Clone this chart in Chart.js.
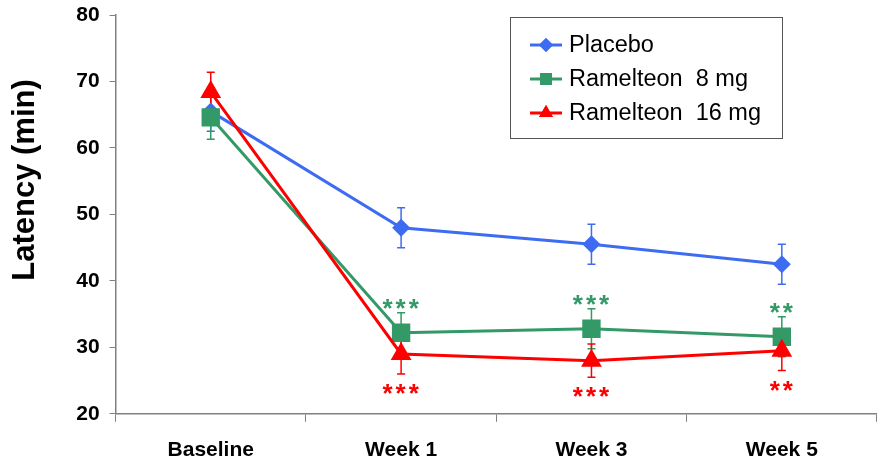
<!DOCTYPE html>
<html>
<head>
<meta charset="utf-8">
<script src="https://cdn.jsdelivr.net/npm/chart.js@4.4.0/dist/chart.umd.min.js"></script>
<style>
html, body { margin: 0; padding: 0; background: #fff; }
#wrap { width: 877px; height: 465px; position: relative; }
</style>
</head>
<body>
<div id="wrap"><canvas id="chart1"></canvas></div>
<script>
// données
const weeks = ["Baseline", "Week 1", "Week 3", "Week 5"];
const placebo = [65.5, 48, 45.5, 42.5];
const placeboErr = [3, 3, 3, 3];
const ram8 = [64.6, 32.2, 32.8, 31.6];
const ram8Err = [3.3, 3, 3, 3];
const ram16 = [68.4, 29, 28, 29.5];
const ram16Err = [3, 3, 2.5, 3];
const ram8Stars = ["", "***", "***", "**"];
const ram16Stars = ["", "***", "***", "**"];

const FONT = "'Liberation Sans', Arial, sans-serif";
const BLUE = "#3D6CF2";
const GREEN = "#339966";
const RED = "#FF0000";
const Y_TITLE = "Latency (min)";

// barres d'erreur, étoiles, titre de l'axe y et légende encadrée
const extras = {
    id: "extras",
    beforeDatasetsDraw(chart) {
        const { ctx, scales: { x, y } } = chart;
        chart.data.datasets.forEach(ds => {
            ctx.save();
            ctx.strokeStyle = ds.borderColor;
            ctx.lineWidth = 1.5;
            ds.errors.forEach((e, i) => {
                const px = x.getPixelForValue(i);
                const top = y.getPixelForValue(ds.data[i] + e);
                const bot = y.getPixelForValue(ds.data[i] - e);
                ctx.beginPath();
                ctx.moveTo(px, top); ctx.lineTo(px, bot);
                ctx.moveTo(px - 4, top); ctx.lineTo(px + 4, top);
                ctx.moveTo(px - 4, bot); ctx.lineTo(px + 4, bot);
                ctx.stroke();
            });
            ctx.restore();
        });
    },
    afterDatasetsDraw(chart) {
        const { ctx, scales: { x, y } } = chart;
        ctx.save();
        ctx.font = "bold 26px " + FONT;
        ctx.letterSpacing = "3px";
        ctx.textAlign = "center";
        ctx.textBaseline = "alphabetic";
        ctx.fillStyle = GREEN;
        ram8Stars.forEach((s, i) => {
            if (!s) return;
            ctx.fillText(s, x.getPixelForValue(i) + 1, y.getPixelForValue(ram8[i] + ram8Err[i]) + 4);
        });
        ctx.fillStyle = RED;
        ram16Stars.forEach((s, i) => {
            if (!s) return;
            ctx.fillText(s, x.getPixelForValue(i) + 1, y.getPixelForValue(ram16[i] - ram16Err[i]) + 28);
        });
        ctx.letterSpacing = "0px";

        // titre de l'axe y, un peu au-dessus du milieu comme dans l'original
        ctx.save();
        ctx.translate(25, 180);
        ctx.rotate(-Math.PI / 2);
        ctx.font = "bold 31px " + FONT;
        ctx.fillStyle = "#000";
        ctx.textAlign = "center";
        ctx.textBaseline = "middle";
        ctx.fillText(Y_TITLE, 0, 0);
        ctx.restore();

        // légende
        const bx = 510, by = 17, bw = 272, bh = 121;
        const legR = [7, 8.5, 8];
        ctx.fillStyle = "#fff";
        ctx.fillRect(bx, by, bw, bh);
        ctx.strokeStyle = "#555";
        ctx.lineWidth = 1;
        ctx.strokeRect(bx + 0.5, by + 0.5, bw, bh);
        ctx.font = "23.5px " + FONT;
        ctx.textAlign = "left";
        ctx.textBaseline = "middle";
        chart.data.datasets.forEach((ds, k) => {
            const ly = by + 28 + k * 34;
            ctx.strokeStyle = ds.borderColor;
            ctx.lineWidth = 3;
            ctx.beginPath();
            ctx.moveTo(bx + 20, ly); ctx.lineTo(bx + 52, ly);
            ctx.stroke();
            ctx.fillStyle = ds.borderColor;
            Chart.helpers.drawPoint(ctx, { pointStyle: ds.pointStyle, radius: legR[k], rotation: 0, borderWidth: 0 }, bx + 36, ly);
            ctx.fill();
            ctx.fillStyle = "#000";
            ctx.fillText(ds.label, bx + 59, ly + 1);
        });
        ctx.restore();
    }
};

const ctx0 = document.getElementById("chart1");

const chart = new Chart(ctx0, {
    type: "line",
    data: {
        labels: weeks,
        datasets: [
            {
                label: "Placebo",
                data: placebo,
                errors: placeboErr,
                borderColor: BLUE,
                backgroundColor: BLUE,
                pointStyle: "rectRot",
                pointRadius: 9,
                order: 2
            },
            {
                label: "Ramelteon  8 mg",
                data: ram8,
                errors: ram8Err,
                borderColor: GREEN,
                backgroundColor: GREEN,
                pointStyle: "rect",
                pointRadius: 13,
                order: 1
            },
            {
                label: "Ramelteon  16 mg",
                data: ram16,
                errors: ram16Err,
                borderColor: RED,
                backgroundColor: RED,
                pointStyle: "triangle",
                pointRadius: 12,
                order: 0
            }
        ]
    },
    options: {
        responsive: true,
        maintainAspectRatio: false,
        animation: false,
        elements: {
            line: { borderWidth: 3, tension: 0 },
            point: { borderWidth: 0, hoverRadius: 10 }
        },
        layout: {
            autoPadding: false,
            padding: { top: 15, right: -6, left: 4, bottom: -14 }
        },
        plugins: {
            legend: { display: false },
            tooltip: { enabled: false }
        },
        scales: {
            x: {
                offset: true,
                afterFit(scale) {
                    scale.paddingLeft = 0;
                    scale.paddingRight = 0;
                },
                grid: {
                    display: true,
                    offset: true,
                    drawOnChartArea: false,
                    tickLength: 8,
                    color: "#808080"
                },
                border: { color: "#808080", width: 1.5 },
                ticks: {
                    color: "#000",
                    padding: 16,
                    font: { family: FONT, size: 21, weight: "bold" }
                }
            },
            y: {
                min: 20,
                max: 80,
                afterFit(scale) {
                    scale.paddingTop = 0;
                    scale.paddingBottom = 0;
                },
                ticks: {
                    stepSize: 10,
                    color: "#000",
                    padding: 10,
                    font: { family: FONT, size: 21, weight: "bold" }
                },
                grid: {
                    display: true,
                    drawOnChartArea: false,
                    tickLength: 6,
                    color: "#808080"
                },
                border: { color: "#808080", width: 1.5 },
                // le titre garde sa place ici, il est dessiné par le plugin
                title: {
                    display: true,
                    text: Y_TITLE,
                    color: "rgba(0,0,0,0)",
                    padding: { top: 2, bottom: 23 },
                    font: { family: FONT, size: 31, weight: "bold" }
                }
            }
        }
    },
    plugins: [extras]
});
</script>
</body>
</html>
